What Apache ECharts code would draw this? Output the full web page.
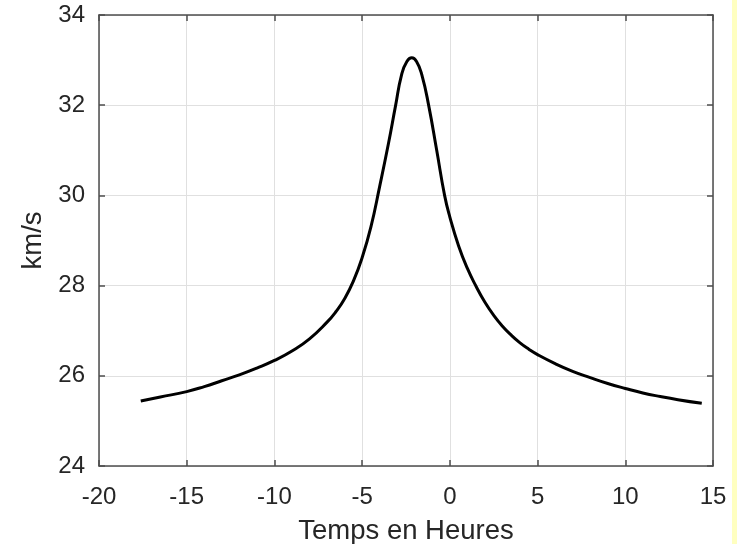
<!DOCTYPE html>
<html>
<head>
<meta charset="utf-8">
<script src="https://cdn.jsdelivr.net/npm/echarts@6/dist/echarts.min.js"></script>
<style>html,body{margin:0;padding:0;background:#fff;}#c{width:737px;height:544px;}</style>
</head>
<body>
<div id="c"></div>
<script>
// Time in hours
var timeHours = [-17.62, -16.5, -15.0, -14.0, -13.0, -12.0, -11.0, -10.0, -9.0, -8.0, -7.0, -6.5, -6.0, -5.5, -5.0, -4.5, -4.0, -3.5, -3.1, -2.75, -2.45, -2.17, -1.9, -1.6, -1.2, -0.75, -0.3, 0.0, 0.5, 1.0, 1.5, 2.0, 2.5, 3.0, 3.5, 4.0, 4.5, 5.0, 6.0, 7.0, 8.0, 9.0, 10.0, 11.0, 12.0, 13.0, 14.36];
// Speed in km/s
var speedKms = [25.44, 25.53, 25.65, 25.76, 25.89, 26.02, 26.17, 26.34, 26.55, 26.82, 27.19, 27.42, 27.71, 28.10, 28.62, 29.30, 30.20, 31.15, 31.98, 32.68, 32.97, 33.05, 32.97, 32.68, 31.98, 31.00, 30.00, 29.52, 28.88, 28.38, 27.98, 27.63, 27.34, 27.10, 26.90, 26.73, 26.59, 26.47, 26.27, 26.10, 25.96, 25.83, 25.72, 25.62, 25.54, 25.47, 25.39];
var xTicks = [-20, -15, -10, -5, 0, 5, 10, 15];
var yTicks = [24, 26, 28, 30, 32, 34];

var pts = timeHours.map(function (t, i) { return [t, speedKms[i]]; });
var axisCol = '#4d4d4d', txtCol = '#262626', gridCol = '#e0e0e0';
var font = 'Liberation Sans, Arial, sans-serif';

var chart = echarts.init(document.getElementById('c'), null, {renderer: 'canvas'});
chart.setOption({
  animation: false,
  backgroundColor: '#fff',
  grid: {left: 99, right: 24, top: 15, bottom: 78, containLabel: false, outerBoundsMode: 'none'},
  graphic: [{type: 'rect', shape: {x: 732, y: 0, width: 5, height: 544}, style: {fill: '#ffffc0'}}],
  xAxis: [{
    type: 'value', min: xTicks[0], max: xTicks[xTicks.length - 1], interval: 5,
    name: 'Temps en Heures', nameLocation: 'middle', nameGap: 51,
    nameTextStyle: {fontSize: 27.5, color: txtCol, fontFamily: font},
    axisLine: {show: true, onZero: false, lineStyle: {color: axisCol, width: 1.5}},
    axisTick: {show: true, inside: true, length: 6, lineStyle: {color: axisCol, width: 1.5}},
    axisLabel: {fontSize: 24, color: txtCol, fontFamily: font, margin: 19},
    splitLine: {show: true, lineStyle: {color: gridCol, width: 1}}
  }, {
    type: 'value', position: 'top', min: xTicks[0], max: xTicks[xTicks.length - 1], interval: 5,
    axisLine: {show: true, onZero: false, lineStyle: {color: axisCol, width: 1.5}},
    axisTick: {show: true, inside: true, length: 6, lineStyle: {color: axisCol, width: 1.5}},
    axisLabel: {show: false}, splitLine: {show: false}
  }],
  yAxis: [{
    type: 'value', min: yTicks[0], max: yTicks[yTicks.length - 1], interval: 2,
    name: 'km/s', nameLocation: 'middle', nameGap: 49,
    nameTextStyle: {fontSize: 27.5, color: txtCol, fontFamily: font},
    axisLine: {show: true, onZero: false, lineStyle: {color: axisCol, width: 1.5}},
    axisTick: {show: true, inside: true, length: 6, lineStyle: {color: axisCol, width: 1.5}},
    axisLabel: {fontSize: 24, color: txtCol, fontFamily: font, margin: 14},
    splitLine: {show: true, lineStyle: {color: gridCol, width: 1}}
  }, {
    type: 'value', position: 'right', min: yTicks[0], max: yTicks[yTicks.length - 1], interval: 2,
    axisLine: {show: true, onZero: false, lineStyle: {color: axisCol, width: 1.5}},
    axisTick: {show: true, inside: true, length: 6, lineStyle: {color: axisCol, width: 1.5}},
    axisLabel: {show: false}, splitLine: {show: false}
  }],
  series: [{
    type: 'line', data: pts, xAxisIndex: 0, yAxisIndex: 0,
    showSymbol: false, smooth: 0.5,
    lineStyle: {color: '#000', width: 3}
  }]
});
</script>
</body>
</html>
